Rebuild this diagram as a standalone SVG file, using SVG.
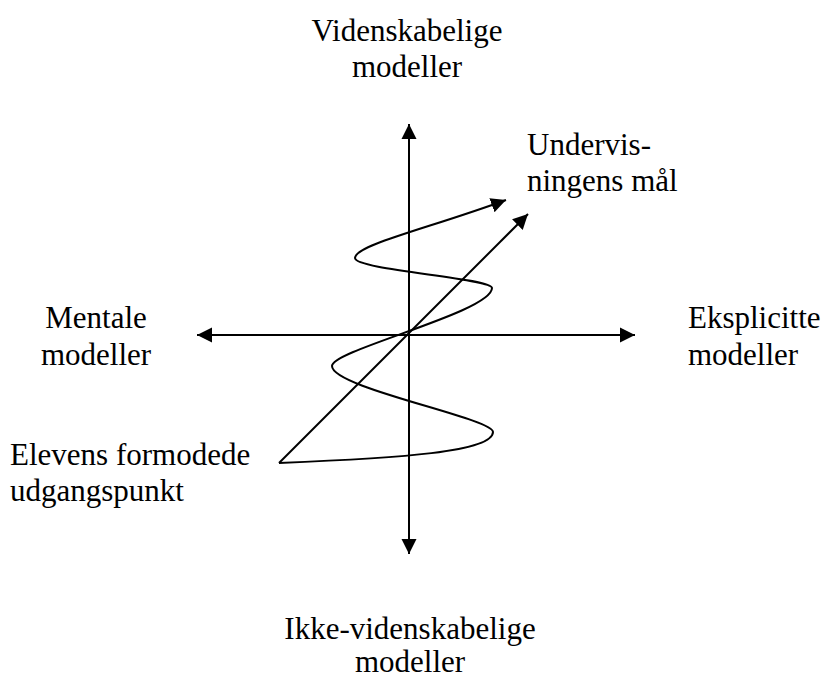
<svg xmlns="http://www.w3.org/2000/svg" width="826" height="680" viewBox="0 0 826 680">
<style>
text { font-family: 'Liberation Serif', 'Times New Roman', serif; font-size: 31px; fill: #000; }
.ln { stroke: #000; stroke-width: 2; fill: none; }
</style>
<defs>
<marker id="ah" markerUnits="userSpaceOnUse" markerWidth="16" markerHeight="16" viewBox="0 0 16 16" refX="15" refY="8" orient="auto">
<path d="M0,0.5 L15,8 L0,15.5 Z" fill="#000"/>
</marker>
</defs>
<rect width="826" height="680" fill="#fff"/>
<g id="connectors">
<line class="ln" x1="409" y1="335" x2="409" y2="124" marker-end="url(#ah)"/>
<line class="ln" x1="409" y1="335" x2="409" y2="554" marker-end="url(#ah)"/>
<line class="ln" x1="409" y1="335" x2="197" y2="335" marker-end="url(#ah)"/>
<line class="ln" x1="409" y1="335" x2="635" y2="335" marker-end="url(#ah)"/>
<line class="ln" x1="279" y1="463" x2="528" y2="214" marker-end="url(#ah)"/>
<path class="ln" d="M279,463 C400,458 493,452 493,432 C493,418 332,388 332,366 C332,350 492,312 492,288 C492,278 355,270 355,258 C355,245 430,228 506,200" marker-end="url(#ah)"/>
</g>
<g id="top"><text x="407" y="41" text-anchor="middle">Videnskabelige</text><text x="407" y="77" text-anchor="middle">modeller</text></g>
<g id="goal"><text x="527" y="155">Undervis-</text><text x="527" y="191">ningens mål</text></g>
<g id="left"><text x="96" y="328" text-anchor="middle">Mentale</text><text x="96" y="365" text-anchor="middle">modeller</text></g>
<g id="right"><text x="688" y="328">Eksplicitte</text><text x="688" y="365">modeller</text></g>
<g id="start"><text x="10" y="465">Elevens formodede</text><text x="10" y="501">udgangspunkt</text></g>
<g id="bottom"><text x="410" y="639" text-anchor="middle">Ikke-videnskabelige</text><text x="410" y="672" text-anchor="middle">modeller</text></g>
</svg>
